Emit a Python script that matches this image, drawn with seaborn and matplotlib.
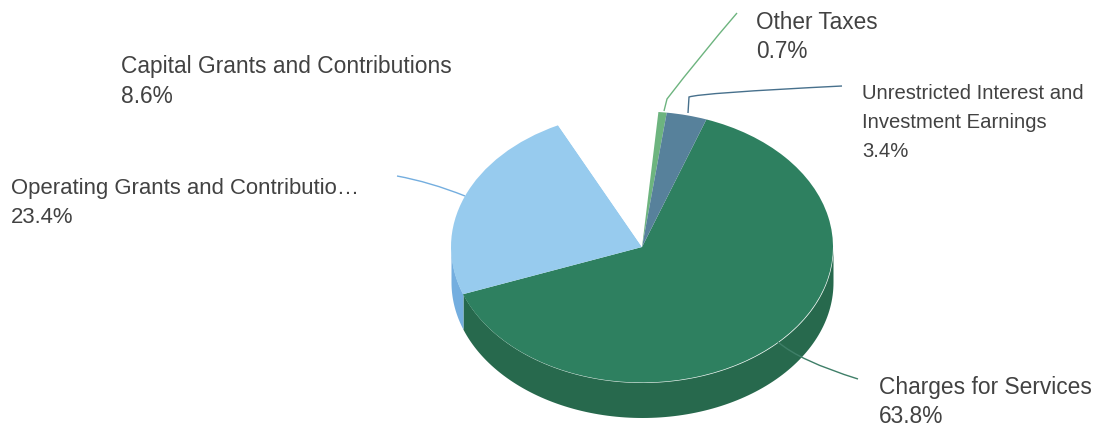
import numpy as np
import matplotlib
matplotlib.use("Agg")
import matplotlib.pyplot as plt
from matplotlib.path import Path
from matplotlib.patches import PathPatch
import seaborn as sns

W, H = 1115, 427

# Revenue shares, clockwise from the start of the largest slice
sources = ["Charges for Services", "Operating Grants and Contributio\u2026",
           "Capital Grants and Contributions", "Other Taxes",
           "Unrestricted Interest and\nInvestment Earnings"]
shares = [63.8, 23.4, 8.6, 0.7, 3.4]
top_colors = ["#2E8060", "#97CBEE", "#FFFFFF", "#6DB47F", "#57819B"]
wall_colors = ["#27694D", "#74AEDF", "#FFFFFF", "#6DB47F", "#57819B"]

sns.set_theme(style="white")
plt.rcParams["font.family"] = ["Liberation Sans", "DejaVu Sans"]

CX, CY, RX, RY, DEPTH = 642, 248, 191, 135.5, 35
START = 70.3

fig = plt.figure(figsize=(W / 100, H / 100), dpi=100)
ax = fig.add_axes([0, 0, 1, 1])
ax.pie(shares, colors=top_colors, startangle=START, counterclock=False,
       radius=1, wedgeprops=dict(linewidth=0, zorder=3))
ax.set_aspect("auto")
ax.set_xlim(-CX / RX, (W - CX) / RX)
ax.set_ylim(-(H - CY) / RY, CY / RY)
ax.set_axis_off()

# Side wall of the disc: the front half of each slice, pushed down by the depth
depth = DEPTH / RY
edges = START - 3.6 * np.cumsum([0] + shares) * (100 / sum(shares))
for a0, a1, c in zip(edges[:-1], edges[1:], wall_colors):
    a_hi, a_lo = min(a0, 0), max(a1, -180)
    if a_hi <= a_lo:
        continue
    t = np.radians(np.linspace(a_hi, a_lo, 120))
    ax.fill_between(np.cos(t), np.sin(t), np.sin(t) - depth, color=c, lw=0, zorder=2)


def fx(x, y):
    return (x / W, 1 - y / H)


def leader(points, color):
    # Polyline leader with a rounded bend at each interior point
    verts = [fx(*p) for p in points]
    codes = [Path.MOVETO] + [Path.CURVE3] * (len(verts) - 1)
    if len(verts) % 2 == 0:
        codes[-1] = Path.LINETO
    ax.add_patch(PathPatch(Path(verts, codes), transform=fig.transFigure, fill=False,
                           edgecolor=color, lw=1.0, zorder=4))


leader([(737, 14), (700, 57), (667, 100), (664, 112)], "#6DB47F")
leader([(397, 177), (430, 183), (465, 197)], "#74AEDF")
leader([(778, 343), (800, 362), (858, 380)], "#3F7F68")
leader([(842, 87), (700, 94), (689, 98), (688, 114)], "#47708C")

TEXT = "#424242"
# Label anchor, font size and line spacing for each slice
placements = {
    "Charges for Services": (879, 402, 16.4, 1.3),
    "Operating Grants and Contributio\u2026": (11, 203, 15.9, 1.5),
    "Capital Grants and Contributions": (121, 81.5, 16.4, 1.41),
    "Other Taxes": (756, 37, 16.3, 1.34),
    "Unrestricted Interest and\nInvestment Earnings": (862, 122.5, 14.6, 1.68),
}
for name, share in zip(sources, shares):
    px, py, size, spacing = placements[name]
    tx, ty = fx(px, py)
    fig.text(tx, ty, f"{name}\n{share}%", ha="left", va="center",
             fontsize=size, color=TEXT, linespacing=spacing)

fig.savefig("out.png", dpi=100)
